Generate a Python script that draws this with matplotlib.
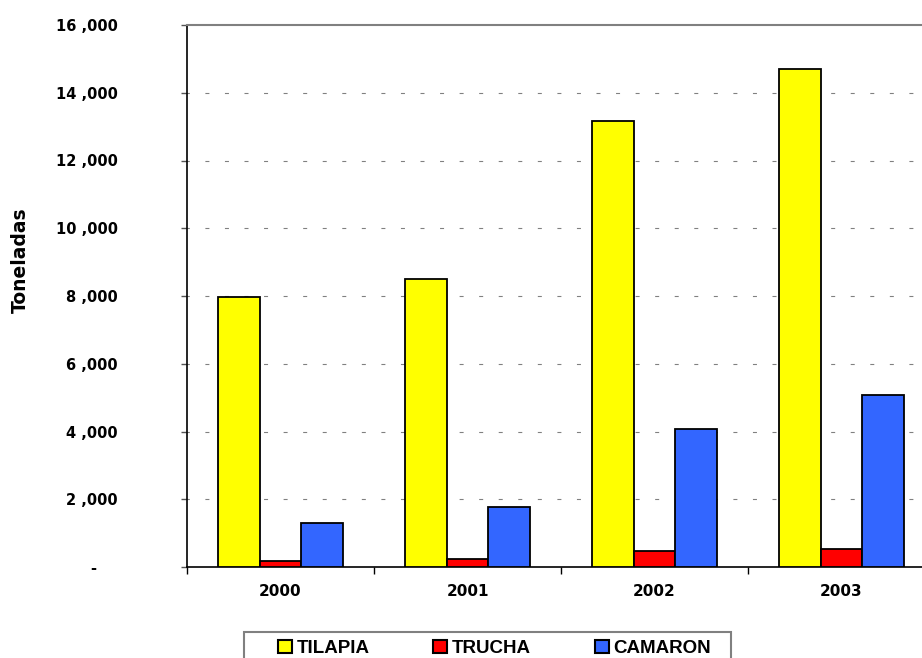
import matplotlib
matplotlib.use("Agg")
import matplotlib.pyplot as plt
from matplotlib.patches import Patch, Rectangle
import numpy as np

years = ["2000", "2001", "2002", "2003"]
tilapia = [7980, 8500, 13170, 14710]
trucha = [180, 230, 480, 540]
camaron = [1300, 1770, 4070, 5080]
series_names = ["TILAPIA", "TRUCHA", "CAMARON"]
colors = ["#FFFF00", "#FF0000", "#3366FF"]
yticks = [0, 2000, 4000, 6000, 8000, 10000, 12000, 14000, 16000]
ytick_labels = ["-    ", "2 ,000", "4 ,000", "6 ,000", "8 ,000", "10 ,000", "12 ,000", "14 ,000", "16 ,000"]

W, H = 922, 658
fig = plt.figure(figsize=(W / 100, H / 100), dpi=100)
ax = fig.add_axes([187 / W, 1 - 567 / H, 748 / W, 542 / H])

x = np.arange(len(years))
bw = 0.2228
for i, (vals, c) in enumerate(zip([tilapia, trucha, camaron], colors)):
    ax.bar(x + (i - 1) * bw, vals, width=bw, color=c, edgecolor="black",
           linewidth=1.3, zorder=3)

ax.set_xlim(-0.5, 3.5)
ax.set_ylim(0, 16000)

# x ticks: boundaries as major ticks, labels on minor ticks
ax.set_xticks([-0.5, 0.5, 1.5, 2.5, 3.5])
ax.set_xticklabels([])
ax.set_xticks(x, minor=True)
ax.set_xticklabels(years, minor=True, fontsize=11, fontweight="bold",
                   family="DejaVu Sans")
ax.tick_params(axis="x", which="major", direction="out", length=5, width=1, color="black")
ax.tick_params(axis="x", which="minor", length=0, pad=12)

ax.set_yticks(yticks)
ax.set_yticklabels(ytick_labels, fontsize=10.5, fontweight="bold", family="DejaVu Sans")
ax.tick_params(axis="y", direction="out", length=4, width=1, color="#555555", pad=46)

# grid
for v in yticks[1:-1]:
    ax.axhline(v, color="#808080", linewidth=0.8, linestyle=(1.5, (3.6, 14.0)), zorder=1)

ax.spines["right"].set_visible(False)
ax.spines["top"].set_color("#808080")
ax.spines["top"].set_linewidth(1.5)
ax.spines["left"].set_color("black")
ax.spines["left"].set_linewidth(1.2)
ax.spines["bottom"].set_color("black")
ax.spines["bottom"].set_linewidth(1.2)

ax.set_ylabel("Toneladas", fontsize=13.5, fontweight="bold", family="DejaVu Sans",
              ha="center", va="center")
ax.yaxis.set_label_coords((20 - 187) / 748, (567 - 260) / 542)

# legend frame
frame = Rectangle((244 / W, 1 - 680 / H), (731 - 244) / W, (680 - 632) / H,
                  transform=fig.transFigure, facecolor="white", edgecolor="#808080",
                  linewidth=1.5, zorder=0)
fig.patches.append(frame)
handles = [Patch(facecolor=c, edgecolor="black", linewidth=1.5) for c in colors]
leg = fig.legend(handles, series_names, loc="upper left",
                 bbox_to_anchor=(274 / W, 1 - 636 / H), frameon=False, ncol=3,
                 prop={"family": "Liberation Sans", "weight": "bold", "size": 13.5},
                 handlelength=0.75, handleheight=0.75, handletextpad=0.25,
                 columnspacing=3.4, borderpad=0.2, borderaxespad=0)

fig.savefig("out.png", dpi=100)
